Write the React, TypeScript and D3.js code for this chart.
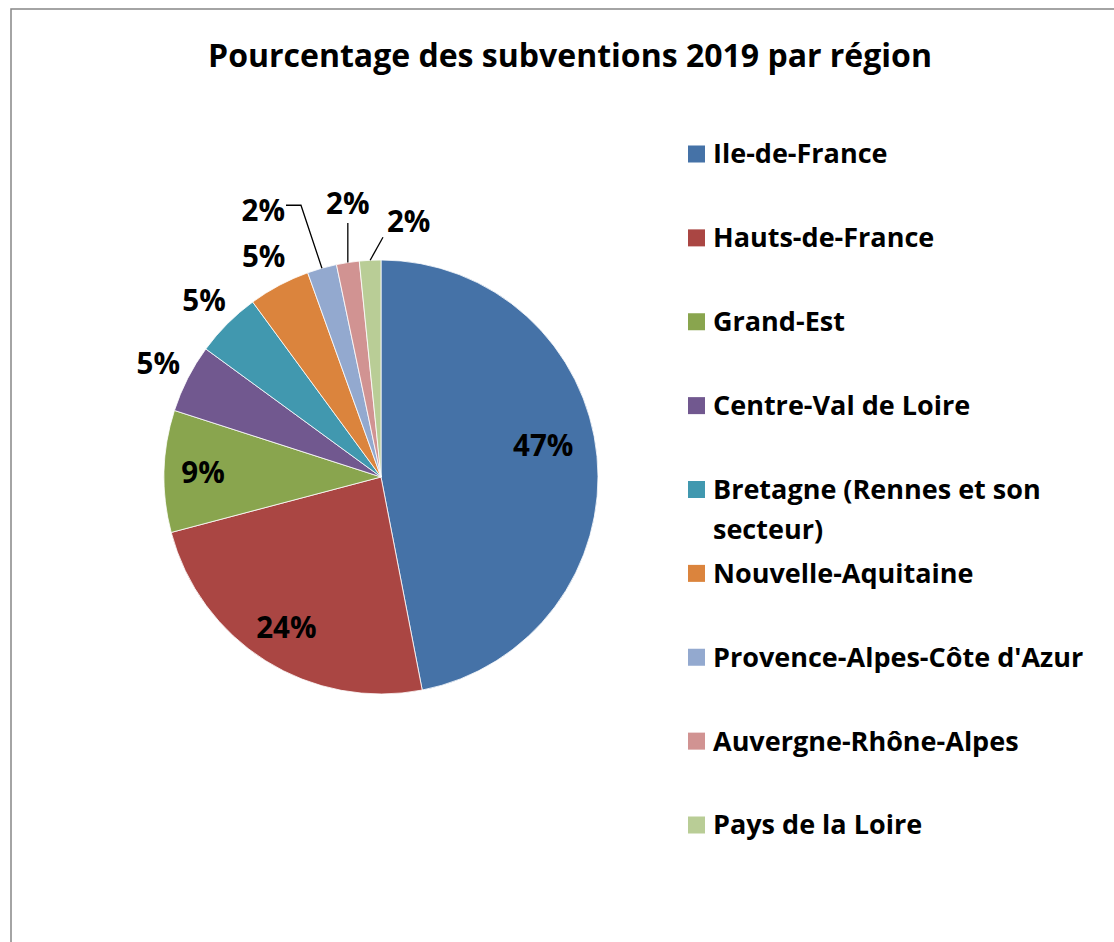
import React from 'react';
import * as d3 from 'd3';

const regions = [
  'Ile-de-France',
  'Hauts-de-France',
  'Grand-Est',
  'Centre-Val de Loire',
  'Bretagne (Rennes et son secteur)',
  'Nouvelle-Aquitaine',
  "Provence-Alpes-Côte d'Azur",
  'Auvergne-Rhône-Alpes',
  'Pays de la Loire',
];
const shares = [47.1, 24.0, 9.1, 5.1, 4.9, 4.6, 2.2, 1.7, 1.6];
const colors = ['#4572A7', '#AA4643', '#89A54E', '#71588F', '#4198AF', '#DB843D', '#93A9CF', '#D19392', '#B9CD96'];
const legendLines = [
  ['Ile-de-France'],
  ['Hauts-de-France'],
  ['Grand-Est'],
  ['Centre-Val de Loire'],
  ['Bretagne (Rennes et son', 'secteur)'],
  ['Nouvelle-Aquitaine'],
  ["Provence-Alpes-Côte d'Azur"],
  ['Auvergne-Rhône-Alpes'],
  ['Pays de la Loire'],
];
const title = 'Pourcentage des subventions 2019 par région';

const W = 1114, H = 942;
const cx = 381, cy = 477, R = 217;
const font = "'Open Sans', 'DejaVu Sans', sans-serif";

const polar = (a: number, r: number): [number, number] => [r * Math.sin(a), -r * Math.cos(a)];

export default function App() {
  const total = d3.sum(shares);
  const pie = d3.pie<number>().sort(null).value(d => d);
  const arcs = pie(shares);
  const arc = d3.arc<d3.PieArcDatum<number>>().innerRadius(0).outerRadius(R);
  const pct = (v: number) => d3.format('.0%')(v / total);

  const labels = arcs.map((a, i) => {
    const mid = (a.startAngle + a.endAngle) / 2;
    const text = pct(a.value);
    if (i === 0) {
      const [x, y] = polar(mid, 163);
      return <text key={i} x={x} y={y - 16} dy="0.35em" textAnchor="middle">{text}</text>;
    }
    if (i <= 2) {
      const [x, y] = polar(mid, 178);
      return <text key={i} x={x} y={y} dy="0.35em" textAnchor="middle">{text}</text>;
    }
    if (i <= 5) {
      const [x, y] = polar(mid, R + 33);
      return <text key={i} x={x} y={y} dy="0.35em" textAnchor="middle">{text}</text>;
    }
    const start = polar(mid, R);
    if (i === 6) {
      const e = polar(mid, R + 55);
      const elbow: [number, number] = [e[0] - 6, e[1] - 10];
      const tail: [number, number] = [elbow[0] - 15, elbow[1]];
      return (
        <g key={i}>
          <path d={d3.line()([start, elbow, tail]) ?? ''} fill="none" stroke="#000" strokeWidth={1.3} />
          <text x={tail[0] - 1} y={tail[1] + 5} dy="0.35em" textAnchor="end">{text}</text>
        </g>
      );
    }
    if (i === 7) {
      const e = polar(mid, R + 40);
      const end: [number, number] = [start[0], e[1]];
      return (
        <g key={i}>
          <path d={d3.line()([start, end]) ?? ''} fill="none" stroke="#000" strokeWidth={1.3} />
          <text x={end[0]} y={end[1] - 19} dy="0.35em" textAnchor="middle">{text}</text>
        </g>
      );
    }
    const e = polar(mid, R + 23);
    const end: [number, number] = [e[0] + 14, e[1]];
    return (
      <g key={i}>
        <path d={d3.line()([start, end]) ?? ''} fill="none" stroke="#000" strokeWidth={1.3} />
        <text x={end[0] + 4} y={end[1] - 16} dy="0.35em" textAnchor="start">{text}</text>
      </g>
    );
  });

  const legendY = d3.scaleLinear().domain([0, regions.length - 1]).range([154, 825]);

  return (
    <svg width={W} height={H} style={{ position: 'absolute', left: 0, top: 0, background: '#fff' }}>
      <rect x={11} y={9} width={W + 20} height={H + 20} fill="#fff" stroke="#868686" strokeWidth={1.5} />
      <text x={570} y={67} textAnchor="middle" fontFamily={font} fontWeight="bold" fontSize={32} fill="#000">
        {title}
      </text>
      <g transform={`translate(${cx},${cy})`}>
        {arcs.map((a, i) => (
          <path key={regions[i]} d={arc(a) ?? ''} fill={colors[i]} stroke="#fff" strokeWidth={0.8} />
        ))}
        <g fontFamily={font} fontWeight="bold" fontSize={29.5} fill="#000">
          {labels}
        </g>
      </g>
      <g fontFamily={font} fontWeight="bold" fontSize={27} fill="#000">
        {regions.map((r, i) => (
          <g key={r} transform={`translate(688,${legendY(i)})`}>
            <rect x={0} y={-8.5} width={17} height={17} fill={colors[i]} />
            {legendLines[i].map((line, j) => (
              <text key={j} x={25} y={j * 40} dy="0.35em">{line}</text>
            ))}
          </g>
        ))}
      </g>
    </svg>
  );
}
